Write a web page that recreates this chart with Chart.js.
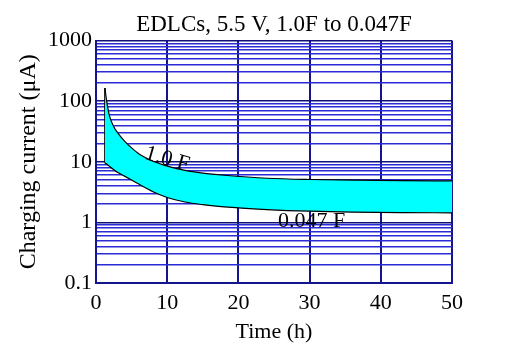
<!DOCTYPE html>
<html>
<head>
<meta charset="utf-8">
<script src="https://cdn.jsdelivr.net/npm/chart.js@4/dist/chart.umd.min.js"></script>
<style>
html,body{margin:0;padding:0;background:#fff;}
#wrap{width:512px;height:363px;}
</style>
</head>
<body>
<div id="wrap"><canvas id="c" width="512" height="363"></canvas></div>
<script>
const titleText = 'EDLCs, 5.5 V, 1.0F to 0.047F';
const xTitle = 'Time (h)';
const yTitle = 'Charging current (\u03BCA)';
const timeH = [1.25, 1.5, 1.75, 2, 2.5, 3, 4, 5, 6, 7, 8, 10, 12.5, 15, 18, 24, 30, 36, 43, 50];
const current10F = [165, 100, 68, 52, 38, 30.5, 22, 17, 13.6, 11.6, 10.2, 8.5, 7.2, 6.5, 6.0, 5.35, 5.1, 5.0, 4.9, 4.83];
const current0047F = [9.6, 9.2, 8.7, 8.2, 7.4, 6.7, 5.8, 5.0, 4.3, 3.7, 3.2, 2.58, 2.17, 1.96, 1.8, 1.63, 1.53, 1.48, 1.45, 1.44];
const xTicks = [0, 10, 20, 30, 40, 50];
const yDecades = [0.1, 1, 10, 100, 1000];
const yMinorSteps = [1, 2, 3, 4, 5, 6, 7, 8, 9];
const curveLabels = [{text: '1.0 F', t: 10.0, v: 11.0, rot: 16}, {text: '0.047 F', t: 30.3, v: 1.05, rot: 0}];

const yGrid = [];
yDecades.forEach((d, i) => {
  if (i === yDecades.length - 1) { yGrid.push(d); return; }
  yMinorSteps.forEach(m => yGrid.push(+(d * m).toPrecision(3)));
});

const lowerPts = timeH.map((t, i) => ({x: t, y: current0047F[i]}));
const upperPts = timeH.map((t, i) => ({x: t, y: current10F[i]}));
const edgePts = [{x: timeH[0], y: current10F[0]}, {x: timeH[0], y: current0047F[0]}];

const serif = '"Liberation Serif", "DejaVu Serif", serif';
const isDecade = v => yDecades.some(d => Math.abs(d - v) < 1e-9);

const labelPlugin = {
  id: 'curveLabels',
  afterDatasetsDraw(chart) {
    const ctx = chart.ctx;
    const xs = chart.scales.x, ys = chart.scales.y;
    ctx.save();
    ctx.fillStyle = '#000';
    ctx.font = '22px ' + serif;
    ctx.textAlign = 'center';
    ctx.textBaseline = 'middle';
    curveLabels.forEach(l => {
      ctx.save();
      ctx.translate(xs.getPixelForValue(l.t), ys.getPixelForValue(l.v));
      ctx.rotate(l.rot * Math.PI / 180);
      ctx.fillText(l.text, 0, 0);
      ctx.restore();
    });
    ctx.restore();
  }
};

new Chart(document.getElementById('c'), {
  type: 'line',
  data: {
    datasets: [
      {label: '0.047 F', data: lowerPts, borderColor: '#000', borderWidth: 1.2, pointRadius: 0, fill: false, cubicInterpolationMode: 'monotone'},
      {label: '1.0 F', data: upperPts, borderColor: '#000', borderWidth: 1.2, pointRadius: 0, fill: '-1', backgroundColor: '#00ffff', cubicInterpolationMode: 'monotone'},
      {label: 'edge', data: edgePts, borderColor: '#000', borderWidth: 1.5, pointRadius: 0, fill: false}
    ]
  },
  options: {
    responsive: false,
    animation: false,
    events: [],
    layout: {padding: {left: 14, right: 60, top: 1, bottom: 18}},
    plugins: {
      legend: {display: false},
      tooltip: {enabled: false},
      title: {
        display: true, text: titleText, color: '#000', fullSize: false,
        font: {family: serif, size: 23, weight: 'normal'},
        padding: {top: 10, bottom: 2}
      }
    },
    scales: {
      x: {
        type: 'linear', min: 0, max: 50,
        afterBuildTicks: s => { s.ticks = xTicks.map(v => ({value: v})); },
        afterFit: s => { s.height = 62; },
        ticks: {color: '#000', font: {family: serif, size: 22}, padding: 7, maxRotation: 0},
        grid: {color: '#14148c', lineWidth: 2, drawTicks: false},
        border: {color: '#14148c', width: 2},
        title: {display: true, text: xTitle, color: '#000', font: {family: serif, size: 22}, padding: {top: 0, bottom: 0}}
      },
      y: {
        type: 'logarithmic', min: 0.1, max: 1000,
        afterBuildTicks: s => { s.ticks = yGrid.map(v => ({value: v})); },
        afterFit: s => { s.width = 82; },
        ticks: {
          color: '#000', font: {family: serif, size: 22}, padding: 4, autoSkip: false,
          callback: v => isDecade(v) ? String(v) : ''
        },
        grid: {
          color: c => (c.tick && isDecade(c.tick.value)) ? '#10107a' : '#2a2ad6',
          lineWidth: 1.6, drawTicks: false
        },
        border: {color: '#14148c', width: 2},
        title: {display: true, text: yTitle, color: '#000', font: {family: serif, size: 24}, padding: {top: 0, bottom: 0}}
      }
    }
  },
  plugins: [labelPlugin]
});
</script>
</body>
</html>
